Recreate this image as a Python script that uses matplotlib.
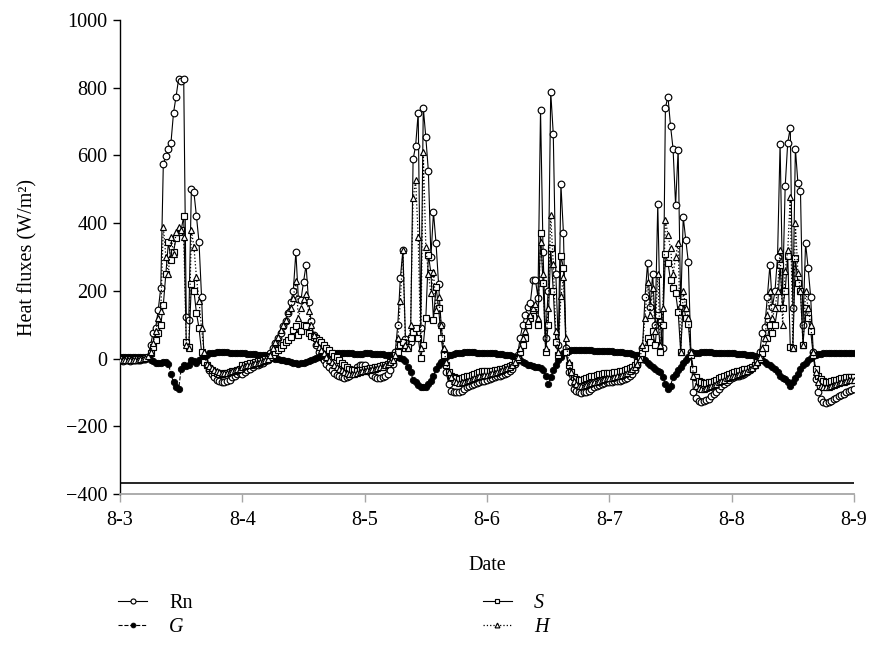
import numpy as np
import matplotlib
matplotlib.use("Agg")
import matplotlib.pyplot as plt

plt.rcParams['font.family'] = ['Liberation Serif', 'DejaVu Serif']
plt.rcParams['axes.unicode_minus'] = True

# ---- data: half-hourly values, one list per day (8-3 ... 8-8) ----
days = ['8-3', '8-4', '8-5', '8-6', '8-7', '8-8', '8-9']

rn_d3 = [-5,-6,-5,-4,-6,-5,-4,-5,-3,-2,0,5,
         40,77,91,144,209,576,597,618,638,726,774,826,
         820,826,123,115,500,491,420,344,182,-5,-20,-35,
         -45,-55,-62,-66,-68,-68,-66,-62,-55,-50,-45,-42]
rn_d4 = [-45,-40,-35,-30,-25,-20,-18,-15,-12,-8,-3,15,
         30,45,60,75,95,110,135,168,200,315,175,173,
         226,276,168,110,70,40,20,5,-5,-15,-25,-35,
         -42,-48,-52,-55,-56,-55,-52,-45,-35,-25,-20,-18]
rn_d5 = [-20,-30,-40,-48,-53,-56,-56,-55,-52,-45,-35,-15,
         20,100,238,320,59,45,50,588,629,726,91,741,
         653,553,300,432,341,221,100,20,-40,-75,-95,-100,
         -100,-98,-95,-90,-85,-80,-78,-75,-72,-70,-67,-65]
rn_d6 = [-62,-60,-58,-55,-52,-50,-48,-45,-42,-38,-30,-15,
         10,60,100,130,153,165,232,232,180,735,315,60,
         200,788,664,250,40,515,370,30,-40,-70,-90,-95,
         -100,-102,-100,-98,-95,-90,-85,-82,-78,-75,-72,-70]
rn_d7 = [-70,-68,-67,-66,-65,-63,-60,-57,-52,-45,-35,-20,
         0,30,182,282,153,250,100,456,109,30,741,774,
         688,620,453,617,150,418,350,285,20,-100,-115,-125,
         -128,-126,-122,-118,-112,-105,-98,-90,-82,-75,-68,-62]
rn_d8 = [-58,-55,-52,-50,-48,-45,-40,-35,-28,-18,-5,20,
         76,94,182,276,153,200,300,635,200,509,638,682,
         150,620,518,494,100,341,268,182,20,-60,-100,-120,
         -128,-130,-128,-125,-120,-116,-112,-108,-104,-100,-96,-92,-90]

g_d3 = [5,5,4,5,6,5,4,5,5,4,3,2,
        -3,-8,-12,-14,-12,-10,-9,-15,-47,-70,-85,-91,
        -30,-20,-22,-18,-5,-8,-12,-5,3,8,12,15,
        16,17,18,18,18,18,18,17,17,16,16,15]
g_d4 = [15,15,14,14,13,13,12,12,11,10,8,5,
        2,0,-2,-3,-5,-6,-8,-10,-12,-14,-15,-14,
        -12,-10,-8,-5,-2,2,5,8,10,12,13,14,
        15,15,16,16,16,16,15,15,14,14,13,13]
g_d5 = [15,15,15,14,14,14,13,13,12,12,11,10,
        8,5,2,-2,-8,-24,-40,-62,-70,-78,-83,-85,
        -85,-75,-65,-50,-32,-20,-10,-2,6,10,12,14,
        15,16,17,18,18,18,18,18,17,17,16,16]
g_d6 = [16,16,15,15,14,14,13,12,11,10,8,5,
        0,-5,-10,-14,-18,-20,-22,-24,-26,-28,-35,-50,
        -76,-55,-35,-20,-5,5,15,20,22,24,25,25,
        25,25,25,24,24,24,23,23,22,22,22,21]
g_d7 = [21,21,20,20,19,18,17,16,15,14,12,10,
        5,0,-5,-12,-20,-26,-32,-38,-41,-55,-75,-91,
        -80,-55,-47,-35,-25,-12,-5,5,12,15,16,17,
        18,18,18,18,18,17,17,17,16,16,16,15]
g_d8 = [15,15,14,14,13,13,12,11,10,8,5,0,
        -5,-10,-15,-20,-25,-30,-40,-50,-56,-60,-70,-82,
        -70,-56,-45,-30,-20,-12,-5,2,8,12,13,14,
        15,15,16,16,16,16,16,16,15,15,15,15,15]

s_d3 = [-2,-2,-3,-2,-2,-3,-2,-2,-1,0,2,5,
        15,35,55,76,100,159,250,344,291,315,356,373,
        380,420,50,35,220,200,135,90,20,-10,-20,-28,
        -35,-40,-43,-45,-45,-44,-42,-40,-38,-36,-33,-30]
s_d4 = [-20,-18,-16,-14,-12,-10,-8,-6,-4,-2,0,5,
        10,18,25,32,40,50,55,65,85,95,70,80,
        100,95,75,68,64,60,55,48,40,32,26,15,
        8,4,-5,-12,-20,-26,-30,-33,-35,-36,-35,-34]
s_d5 = [-32,-30,-28,-27,-25,-24,-22,-20,-18,-15,-10,-5,
        10,20,40,50,30,35,60,79,90,62,3,41,
        120,306,253,115,212,150,60,10,-20,-40,-50,-55,
        -58,-60,-58,-55,-52,-50,-48,-45,-42,-40,-38,-38]
s_d6 = [-38,-37,-36,-35,-33,-32,-30,-28,-26,-22,-18,-10,
        0,20,40,60,100,121,144,150,100,370,223,20,
        100,326,200,50,10,303,268,20,-20,-40,-55,-60,
        -62,-62,-60,-58,-55,-52,-50,-48,-46,-45,-44,-43]
s_d7 = [-43,-42,-41,-40,-38,-36,-34,-32,-28,-24,-18,-10,
        0,15,32,60,50,80,40,130,20,100,309,282,
        232,209,194,138,20,168,120,103,10,-30,-55,-65,
        -70,-72,-72,-70,-68,-65,-62,-58,-55,-52,-48,-45]
s_d8 = [-42,-40,-38,-36,-34,-32,-30,-27,-24,-18,-10,0,
        15,30,60,100,76,100,150,276,150,200,303,35,
        30,297,223,200,40,150,120,82,10,-30,-50,-60,
        -65,-68,-68,-66,-64,-62,-60,-58,-56,-55,-54,-53,-53]

h_d3 = [-3,-4,-3,-5,-4,-3,-4,-3,-2,0,3,8,
        20,45,80,120,140,390,300,250,360,310,373,388,
        380,360,40,30,380,330,240,170,90,20,-15,-22,
        -28,-33,-37,-40,-42,-43,-42,-40,-38,-35,-32,-30]
h_d4 = [-25,-22,-20,-18,-16,-14,-12,-10,-8,-5,0,10,
        30,50,65,85,100,115,140,150,180,230,120,150,
        175,190,140,100,70,45,35,25,15,5,-3,-10,
        -18,-25,-30,-35,-40,-43,-45,-46,-45,-42,-40,-38]
h_d5 = [-36,-35,-34,-32,-30,-28,-26,-24,-20,-15,-10,-5,
        10,60,170,320,40,30,100,473,527,359,30,609,
        330,250,194,256,144,182,100,30,-10,-40,-55,-65,
        -70,-72,-70,-68,-65,-62,-60,-58,-55,-52,-50,-48]
h_d6 = [-48,-46,-44,-42,-40,-38,-35,-32,-28,-24,-18,-10,
        5,30,60,80,110,130,150,160,120,344,250,30,
        150,423,280,80,20,185,240,60,-10,-40,-65,-75,
        -80,-82,-80,-78,-75,-72,-70,-68,-65,-62,-60,-58]
h_d7 = [-58,-56,-54,-52,-50,-48,-45,-42,-38,-32,-25,-15,
        0,40,120,226,130,209,80,250,40,150,409,365,
        326,250,300,341,20,200,150,120,20,-50,-80,-88,
        -90,-90,-88,-85,-82,-78,-75,-70,-66,-62,-58,-55]
h_d8 = [-52,-50,-48,-45,-42,-40,-36,-32,-27,-20,-10,5,
        30,60,130,200,120,150,200,320,100,260,320,477,
        30,400,253,200,40,200,150,100,20,-40,-70,-80,
        -85,-85,-83,-80,-78,-75,-72,-70,-68,-66,-64,-62,-62]

rn = np.array(rn_d3 + rn_d4 + rn_d5 + rn_d6 + rn_d7 + rn_d8, dtype=float)
g = np.array(g_d3 + g_d4 + g_d5 + g_d6 + g_d7 + g_d8, dtype=float)
s = np.array(s_d3 + s_d4 + s_d5 + s_d6 + s_d7 + s_d8, dtype=float)
h = np.array(h_d3 + h_d4 + h_d5 + h_d6 + h_d7 + h_d8, dtype=float)
t = np.arange(len(rn)) / 48.0  # days since 8-3 00:00

fig = plt.figure(figsize=(8.69, 6.45), dpi=100)
ax = fig.add_axes([120/869, 1-494/645, 734/869, 474/645])

l_rn, = ax.plot(t, rn, '-', color='black', lw=0.8, marker='o', ms=4.8,
                mfc='white', mec='black', mew=0.85, label='Rn', zorder=2)
l_g, = ax.plot(t, g, '--', color='black', lw=0.8, marker='o', ms=4.6,
               mfc='black', mec='black', mew=0.6, label='G', zorder=3)
l_s, = ax.plot(t, s, '-', color='black', lw=0.8, marker='s', ms=4.1,
               mfc='white', mec='black', mew=0.85, label='S', zorder=4)
l_h, = ax.plot(t, h, ':', color='black', lw=0.9, marker='^', ms=4.6,
               mfc='white', mec='black', mew=0.85, label='H', zorder=5)

ax.axhline(-368, xmin=0, xmax=1, color='black', lw=1.2, zorder=1)

ax.set_xlim(0, 6)
ax.set_ylim(-400, 1000)
ax.set_yticks(np.arange(-400, 1001, 200))
ax.set_xticks(np.arange(0, 7))
ax.set_xticklabels(days)

for sp in ['top', 'right']:
    ax.spines[sp].set_visible(False)
ax.spines['left'].set_color('black')
ax.spines['left'].set_linewidth(1.0)
ax.spines['bottom'].set_color('#a6a6a6')
ax.spines['bottom'].set_linewidth(1.3)

ax.tick_params(axis='y', direction='out', length=5, width=1.0, color='black',
               labelsize=14.5, pad=4)
ax.tick_params(axis='x', direction='out', length=6, width=1.0, color='#a6a6a6',
               labelcolor='black', labelsize=14.5, pad=6)

ax.set_ylabel('Heat fluxes (W/m²)', fontsize=14.5)
ax.yaxis.set_label_coords(-0.112, 0.5)
ax.set_xlabel('Date', fontsize=14.5)
ax.xaxis.set_label_coords(0.5, -0.130)

leg = fig.legend([l_rn, l_g, l_s, l_h], ['Rn', 'G', 'S', 'H'], ncol=2,
                 loc='upper left', bbox_to_anchor=(118/869, 1-594/645),
                 frameon=False, borderpad=0, borderaxespad=0,
                 handlelength=1.45, handletextpad=1.1, columnspacing=14.4,
                 labelspacing=0.25, fontsize=14.5, markerscale=0.75)
for txt in leg.get_texts():
    if txt.get_text() in ('G', 'S', 'H'):
        txt.set_fontstyle('italic')

fig.savefig('out.png', dpi=100)
